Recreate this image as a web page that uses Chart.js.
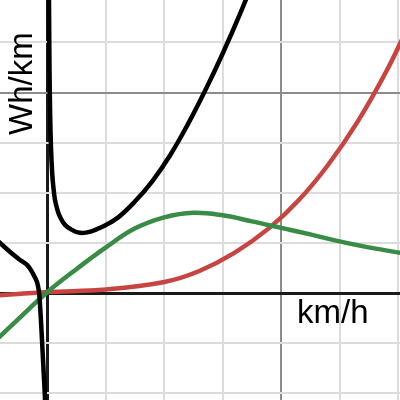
<!DOCTYPE html>
<html>
<head>
<meta charset="utf-8">
<script src="https://cdn.jsdelivr.net/npm/chart.js@4/dist/chart.umd.min.js"></script>
<style>
  html, body { margin: 0; padding: 0; background: #fff; }
  #wrap { width: 400px; height: 400px; }
</style>
</head>
<body>
<div id="wrap"><canvas id="energyChart" width="400" height="400"></canvas></div>
<script>
// values, in grid units (one minor grid cell = 1)
const blackRightX = [0.018, 0.026, 0.035, 0.045, 0.06, 0.08, 0.1, 0.128, 0.17, 0.214, 0.3, 0.42, 0.52, 0.62, 0.75, 0.9, 1.2, 1.5, 1.8, 2.1, 2.4, 2.7, 3.0, 3.3, 3.6];
const blackRightY = [7.0, 5.75, 4.4, 3.6, 2.9, 2.4, 2.12, 1.86, 1.66, 1.52, 1.36, 1.26, 1.21, 1.2, 1.23, 1.3, 1.5, 1.83, 2.24, 2.75, 3.36, 4.04, 4.78, 5.58, 6.45];

const blackLeftX = [-0.9, -0.813, -0.64, -0.47, -0.35, -0.265, -0.18, -0.146, -0.125, -0.105, -0.085, -0.065, -0.045, -0.03];
const blackLeftY = [1.1, 1.0, 0.82, 0.66, 0.56, 0.42, 0.22, 0.02, -0.3, -0.7, -1.15, -1.6, -2.05, -2.5];

const greenX = [-0.9, -0.5, 0, 0.5, 1.0, 1.5, 2.0, 2.5, 3.0, 3.5, 4.0, 4.5, 5.0, 5.5, 6.2];
const greenY = [-0.96, -0.52, 0.02, 0.48, 0.91, 1.29, 1.51, 1.6, 1.55, 1.43, 1.3, 1.17, 1.03, 0.91, 0.77];

const redX = [-0.9, 0, 1.0, 2.0, 2.6, 3.2, 3.8, 4.3, 4.8, 5.3, 5.8, 6.2];
const redY = [-0.05, 0.02, 0.07, 0.22, 0.44, 0.8, 1.3, 1.85, 2.55, 3.4, 4.42, 5.38];

const xLabel = 'km/h';
const yLabel = 'Wh/km';

function toPoints(xs, ys) {
  return xs.map((x, i) => ({ x: x, y: ys[i] }));
}

document.addEventListener('DOMContentLoaded', function () {
  const ctx = document.getElementById('energyChart')?.getContext('2d');
  if (!ctx) return;

  // axis line black, every 4th line darker, the rest light
  function gridColor(c) {
    const v = c.tick ? c.tick.value : null;
    if (v === 0) return '#1a1a1a';
    if (v % 4 === 0) return '#8c8c8c';
    return '#dcdcdc';
  }
  function gridWidth(c) {
    const v = c.tick ? c.tick.value : null;
    if (v === 0) return 3;
    return 2;
  }

  const axisLabels = {
    id: 'axisLabels',
    afterDatasetsDraw(chart) {
      const c = chart.ctx;
      c.save();
      c.fillStyle = '#000';
      c.font = '33px "Liberation Sans", Arial, sans-serif';
      c.textBaseline = 'alphabetic';
      c.textAlign = 'left';
      c.fillText(xLabel, 297, 323);
      c.translate(32, 135);
      c.rotate(-Math.PI / 2);
      c.fillText(yLabel, 0, 0);
      c.restore();
    },
  };

  const lineStyle = {
    showLine: true,
    pointRadius: 0,
    borderWidth: 4.5,
    fill: false,
    tension: 0.4,
    borderCapStyle: 'round',
    borderJoinStyle: 'round',
  };

  new Chart(ctx, {
    type: 'scatter',
    data: {
      datasets: [
        { ...lineStyle, data: toPoints(blackRightX, blackRightY), borderColor: '#000000' },
        { ...lineStyle, data: toPoints(blackLeftX, blackLeftY), borderColor: '#000000' },
        { ...lineStyle, data: toPoints(greenX, greenY), borderColor: '#388c46' },
        { ...lineStyle, data: toPoints(redX, redY), borderColor: '#c74440' },
      ],
    },
    options: {
      responsive: false,
      animation: false,
      layout: { padding: 0 },
      plugins: { legend: { display: false }, tooltip: { enabled: false } },
      scales: {
        x: {
          type: 'linear',
          min: -47.5 / 58.4,
          max: 352.5 / 58.4,
          ticks: { display: false, stepSize: 1, includeBounds: false },
          grid: { color: gridColor, lineWidth: gridWidth, drawTicks: false },
          border: { display: false },
        },
        y: {
          type: 'linear',
          min: -107 / 50.1,
          max: 293 / 50.1,
          ticks: { display: false, stepSize: 1, includeBounds: false },
          grid: { color: gridColor, lineWidth: gridWidth, drawTicks: false },
          border: { display: false },
        },
      },
    },
    plugins: [axisLabels],
  });
});
</script>
</body>
</html>
